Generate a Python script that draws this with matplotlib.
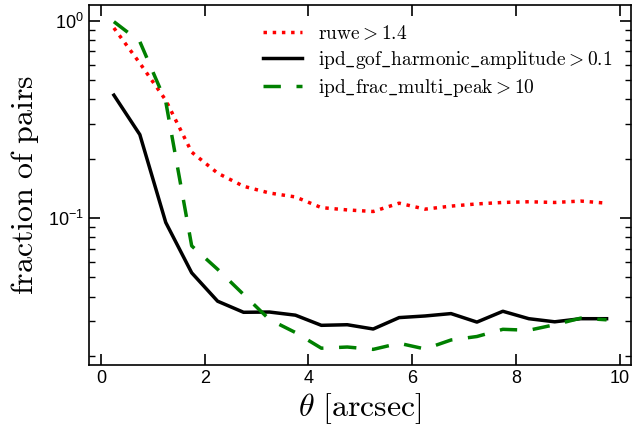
import matplotlib
matplotlib.use('Agg')
import matplotlib.pyplot as plt
from matplotlib.font_manager import FontProperties

plt.rcParams['font.family'] = ['Liberation Sans', 'DejaVu Sans']

# Data
theta = [0.25, 0.75, 1.25, 1.75, 2.25, 2.75, 3.25, 3.75, 4.25, 4.75,
         5.25, 5.75, 6.25, 6.75, 7.25, 7.75, 8.25, 8.75, 9.25, 9.75]
ruwe = [0.92, 0.61, 0.396, 0.216, 0.169, 0.145, 0.134, 0.128, 0.113, 0.110,
        0.108, 0.119, 0.111, 0.115, 0.118, 0.120, 0.121, 0.120, 0.122, 0.119]
ipd_gof = [0.42, 0.265, 0.095, 0.0528, 0.0379, 0.0333, 0.0334, 0.0322, 0.0286, 0.0288,
           0.0274, 0.0313, 0.0319, 0.0328, 0.0297, 0.0337, 0.0309, 0.0298, 0.0309, 0.0309]
ipd_frac = [0.99, 0.785, 0.389, 0.0723, 0.055, 0.041, 0.0306, 0.0263, 0.0219, 0.0222,
            0.0216, 0.0232, 0.0217, 0.0241, 0.0251, 0.0273, 0.0270, 0.0288, 0.0311, 0.0305]

labels = [r'$\mathrm{ruwe} > 1.4$',
          r'$\mathrm{ipd\_gof\_harmonic\_amplitude} > 0.1$',
          r'$\mathrm{ipd\_frac\_multi\_peak} > 10$']

fig = plt.figure(figsize=(6.33, 4.34), dpi=100)
ax = fig.add_axes([0.1406, 0.159, 0.857, 0.829])

ax.plot(theta, ruwe, color='red', linestyle=':', lw=2.5, label=labels[0])
ax.plot(theta, ipd_gof, color='black', lw=2.5, label=labels[1])
ax.plot(theta, ipd_frac, color='green', lw=2.5, dashes=(5, 4.5), label=labels[2])

ax.set_yscale('log')
ax.set_xlim(-0.23, 10.23)
ax.set_ylim(0.018, 1.2)
ax.set_xticks([0, 2, 4, 6, 8, 10])

ax.tick_params(which='both', direction='in', top=True, right=True, labelsize=13)
ax.tick_params(which='major', length=8, width=1.2)
ax.tick_params(which='minor', length=4.5, width=1.0)
for s in ax.spines.values():
    s.set_linewidth(1.2)

ax.set_xlabel(r'$\theta\ [\mathrm{arcsec}]$', fontsize=23, math_fontfamily='cm', labelpad=3)
ax.set_ylabel(r'$\mathrm{fraction\ of\ pairs}$', fontsize=23, math_fontfamily='cm', labelpad=5)

ax.legend(loc='upper right', frameon=False,
          prop=FontProperties(size=14, math_fontfamily='cm'),
          handlelength=2.0, handletextpad=0.8, borderaxespad=0.6,
          labelspacing=0.3)

fig.savefig('out.png', dpi=100)
